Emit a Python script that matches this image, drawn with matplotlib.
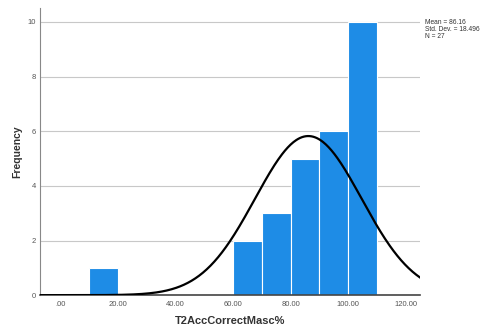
import matplotlib

matplotlib.use("Agg")

import matplotlib.pyplot as plt
import numpy as np

# histogram bins (lower edges), counts
bin_edges = [10, 60, 70, 80, 90, 100]
bin_counts = [1, 2, 3, 5, 6, 10]
bin_width = 10

mean = 86.16
std_dev = 18.496
n_total = 27

x_ticks = [0, 20, 40, 60, 80, 100, 120]
x_labels = [".00", "20.00", "40.00", "60.00", "80.00", "100.00", "120.00"]
y_ticks = [0, 2, 4, 6, 8, 10]

plt.rcParams["font.family"] = ["Liberation Sans", "DejaVu Sans"]

fig = plt.figure(figsize=(4.88, 3.32), dpi=100)
ax = fig.add_axes([0.082, 0.111, 0.779, 0.864])

ax.set_axisbelow(True)
ax.yaxis.grid(True, color="#c8c8c8", linewidth=0.8)
ax.bar(bin_edges, bin_counts, width=bin_width, align="edge",
       color="#1e8ce6", edgecolor="white", linewidth=0.8, zorder=2)

xs = np.linspace(-7, 125, 400)
pdf = np.exp(-0.5 * ((xs - mean) / std_dev) ** 2) / (std_dev * np.sqrt(2 * np.pi))
ax.plot(xs, pdf * n_total * bin_width, color="black", linewidth=1.6, zorder=3)

ax.set_xlim(-7, 125)
ax.set_ylim(0, 10.5)
ax.set_xticks(x_ticks)
ax.set_xticklabels(x_labels)
ax.set_yticks(y_ticks)
ax.tick_params(axis="both", length=0, labelsize=5.5, colors="#555555", pad=3)
ax.tick_params(axis="x", pad=4)

for side in ("top", "right"):
    ax.spines[side].set_visible(False)
ax.spines["left"].set_color("#888888")
ax.spines["bottom"].set_color("#444444")
ax.spines["bottom"].set_linewidth(1.2)

ax.set_xlabel("T2AccCorrectMasc%", fontsize=8, fontweight="bold", color="#333333", labelpad=6)
ax.set_ylabel("Frequency", fontsize=7.5, fontweight="bold", color="#333333", labelpad=4)

fig.text(0.871, 0.91, f"Mean = {mean}\nStd. Dev. = {std_dev}\nN = {n_total}",
         fontsize=4.8, color="#333333", va="center", ha="left", linespacing=1.0)

plt.savefig("out.png", dpi=100)
